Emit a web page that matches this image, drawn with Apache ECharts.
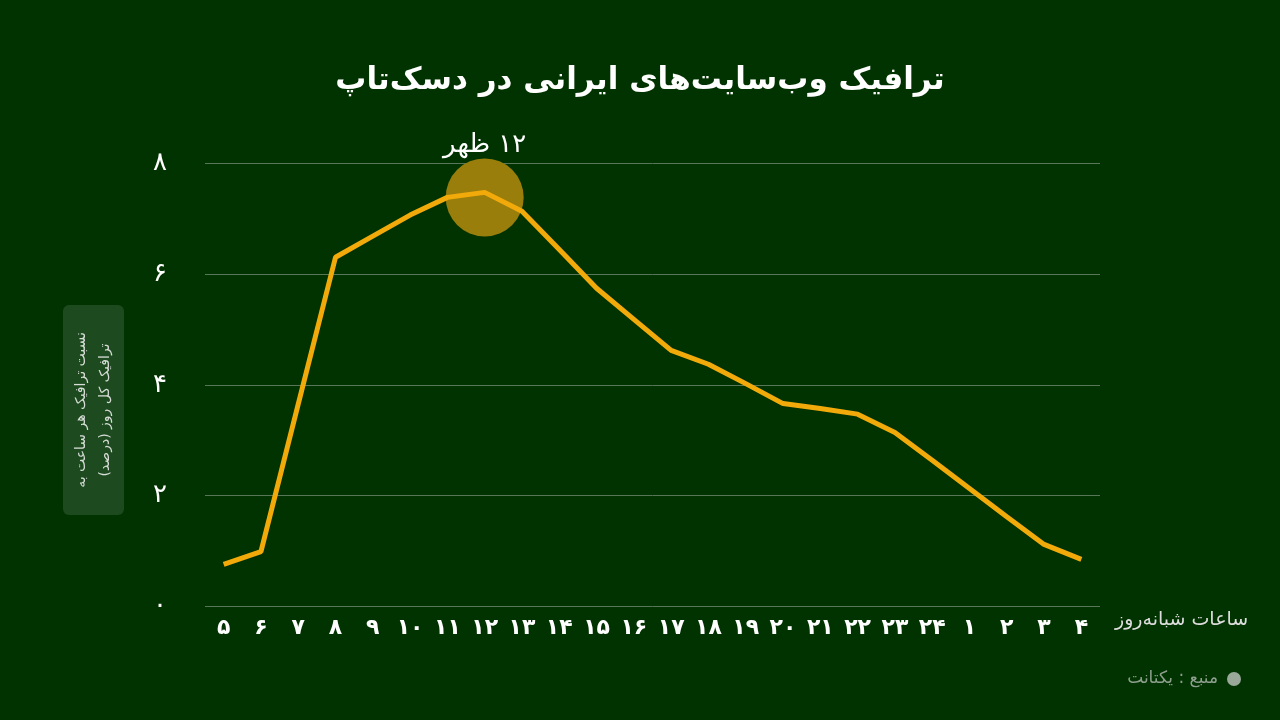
<!DOCTYPE html>
<html>
<head>
<meta charset="utf-8">
<script src="https://cdn.jsdelivr.net/npm/echarts@6/dist/echarts.min.js"></script>
<style>
html,body{margin:0;padding:0;background:#003300;}
#chart{width:1280px;height:720px;}
</style>
</head>
<body>
<div id="chart"></div>
<script>
// Hours of the day (starting 5 am), Persian labels are derived from these
const hours = [5,6,7,8,9,10,11,12,13,14,15,16,17,18,19,20,21,22,23,24,1,2,3,4];
// Share of daily traffic per hour (%)
const trafficShare = [0.76,0.99,3.65,6.30,6.68,7.06,7.38,7.47,7.13,6.44,5.74,5.18,4.62,4.37,4.02,3.66,3.57,3.47,3.14,2.64,2.13,1.62,1.12,0.85];
const yTicks = [0,2,4,6,8];
const peakIndex = 7;
const peakLabel = '۱۲ ظهر';
const titleText = 'ترافیک وب‌سایت‌های ایرانی در دسک‌تاپ';
const xAxisName = 'ساعات شبانه‌روز';
const yAxisNameLines = ['نسبت ترافیک هر ساعت به', 'ترافیک کل روز (درصد)'];
const sourceText = 'منبع : یکتانت';

const faDigits = '۰۱۲۳۴۵۶۷۸۹';
function toFa(v){ return String(v).replace(/[0-9]/g, d => faDigits[+d]); }
function rtl(s){ return '\u202B' + s + '\u202C'; }

const FONT = "'DejaVu Sans', 'Noto Sans', sans-serif";
const chart = echarts.init(document.getElementById('chart'));

const option = {
  backgroundColor: '#003300',
  textStyle: { fontFamily: FONT },
  title: {
    text: rtl(titleText),
    left: 'center',
    top: 60,
    textStyle: { color: '#ffffff', fontSize: 31, fontWeight: 'bold', fontFamily: FONT }
  },
  grid: { left: 205, right: 180, top: 163, bottom: 113.5 },
  xAxis: {
    type: 'category',
    data: hours,
    boundaryGap: true,
    axisLine: { show: false },
    axisTick: { show: false },
    axisLabel: {
      interval: 0, hideOverlap: false,
      color: '#ffffff', fontSize: 22, fontWeight: 'bold', margin: 11,
      formatter: v => toFa(v), fontFamily: FONT
    },
    name: rtl(xAxisName),
    nameLocation: 'end',
    nameGap: 15,
    nameTextStyle: { color: '#dddddd', fontSize: 19, verticalAlign: 'top', padding: [4, 0, 0, 0], fontFamily: FONT }
  },
  yAxis: {
    type: 'value',
    min: 0, max: 8, interval: 2,
    axisLine: { show: false },
    axisTick: { show: false },
    splitLine: { lineStyle: { color: '#587758', width: 1 } },
    axisLabel: {
      color: '#ffffff', fontSize: 26, margin: 45, align: 'center',
      formatter: v => yTicks.indexOf(v) >= 0 ? toFa(v) : '', fontFamily: FONT
    }
  },
  series: [
    {
      type: 'scatter',
      z: 1,
      symbol: 'circle',
      symbolSize: 78,
      symbolOffset: [0, 5],
      itemStyle: { color: '#9a7e0c', opacity: 1 },
      data: [[peakIndex, trafficShare[peakIndex]]],
      label: {
        show: true, position: 'top', distance: 0,
        formatter: rtl(peakLabel), color: '#ffffff', fontSize: 26, fontFamily: FONT
      },
      emphasis: { disabled: true },
      silent: true
    },
    {
      type: 'line',
      z: 3,
      data: trafficShare,
      symbol: 'none',
      lineStyle: { color: '#f2aa0a', width: 5 },
      silent: true
    }
  ],
  graphic: [
    {
      type: 'rect',
      shape: { x: 63, y: 305, width: 61, height: 210, r: 6 },
      style: { fill: '#1d4a1f' }
    },
    {
      type: 'text',
      x: 93, y: 410,
      rotation: Math.PI / 2,
      style: {
        text: yAxisNameLines.map(rtl).join('\n'),
        fill: '#d6dcd6',
        font: "14px 'DejaVu Sans', sans-serif",
        align: 'center', verticalAlign: 'middle',
        lineHeight: 24
      }
    },
    {
      type: 'circle',
      shape: { cx: 1234, cy: 679, r: 7 },
      style: { fill: '#9aa89a' }
    },
    {
      type: 'text',
      x: 1218, y: 679,
      style: {
        text: rtl(sourceText),
        fill: '#8f9f8f',
        font: "17px 'DejaVu Sans', sans-serif",
        align: 'right', verticalAlign: 'middle'
      }
    }
  ]
};
chart.setOption(option);
</script>
</body>
</html>
